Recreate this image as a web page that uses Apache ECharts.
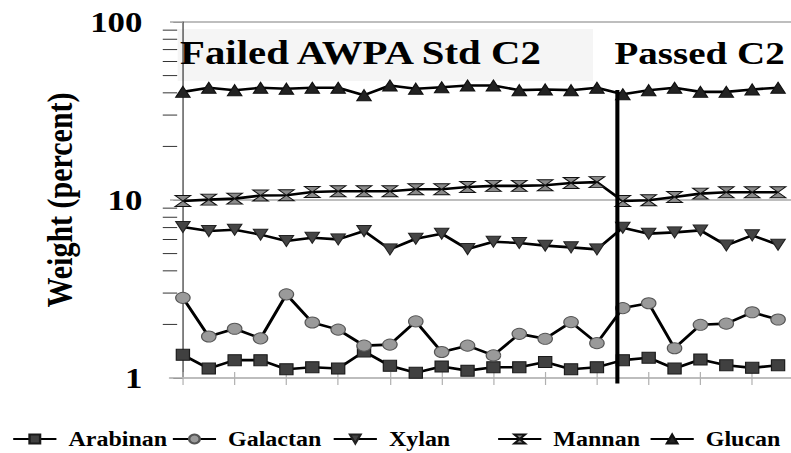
<!DOCTYPE html>
<html><head><meta charset="utf-8">
<script src="https://cdn.jsdelivr.net/npm/echarts@6/dist/echarts.min.js"></script>
<style>
html,body{margin:0;padding:0;background:#fff;overflow:hidden}
#wrap{width:791px;height:453px;overflow:hidden;background:#fff}
#chart{width:659px;height:453px;transform:scaleX(1.2003);transform-origin:0 0}
</style></head>
<body><div id="wrap"><div id="chart"></div></div>
<script>
// ---- data ----
const categories = ['S1','S2','S3','S4','S5','S6','S7','S8','S9','S10','S11','S12',
                    'S13','S14','S15','S16','S17','S18','S19','S20','S21','S22','S23','S24'];
const seriesNames = ['Arabinan','Galactan','Xylan','Mannan','Glucan'];
const arabinan = [1.35,1.13,1.26,1.26,1.12,1.15,1.13,1.41,1.17,1.07,1.16,1.10,
                  1.15,1.15,1.23,1.12,1.15,1.26,1.30,1.13,1.27,1.18,1.14,1.18];
const galactan = [2.82,1.71,1.89,1.67,2.95,2.05,1.87,1.52,1.54,2.08,1.40,1.52,
                  1.34,1.77,1.66,2.06,1.57,2.47,2.63,1.47,1.99,2.02,2.34,2.13];
const xylan    = [7.05,6.69,6.81,6.39,5.88,6.14,6.01,6.69,5.28,6.06,6.47,5.30,
                  5.83,5.73,5.54,5.42,5.28,6.99,6.47,6.58,6.75,5.56,6.33,5.61];
const mannan   = [9.87,10.05,10.18,10.59,10.63,11.09,11.2,11.2,11.2,11.49,11.49,11.84,
                  12.0,12.0,12.1,12.47,12.6,9.87,9.96,10.4,10.86,11.05,11.05,11.05];
const glucan   = [40.5,42.7,41.4,42.7,42.2,42.7,42.7,38.8,44.0,42.2,43.0,44.0,
                  44.0,41.4,41.8,41.4,42.7,39.3,41.4,42.7,40.5,40.5,41.8,42.7];
const yTickLabels = [1, 10, 100];
const yMinorTicks = [2,3,4,5,6,7,8,9,20,30,40,50,60,70,80,90];
const dividerLine = [[16.79, 41.5],[16.79, 0.93]];
const annotations = ['Failed AWPA Std C2', 'Passed C2'];
const yAxisTitle = 'Weight (percent)';

// ---- chart ----
const serif = 'Liberation Serif';
const chart = echarts.init(document.getElementById('chart'), null, {renderer:'svg'});
const valuesList = [arabinan, galactan, xylan, mannan, glucan];
const symbols = ['rect','circle','triangle','path://M0,0 L10,0 L0,10 L10,10 Z','triangle'];
const symbolRot = [0,0,180,0,0];
const symbolSizes = [[11,11],[12,11],[12,11],[13,11],[12,11]];
const fills = ['#404040','#9a9a9a','#454545','#8a8a8a','#222222'];
const borders = ['#1a1a1a','#555555','#222222','#111111','#111111'];
const legendLefts = [10, 143, 277, 414, 541];

const lineSeries = seriesNames.map((n,i)=>({
  name:n, type:'line', data: valuesList[i],
  xAxisIndex:0, yAxisIndex:0,
  symbol: symbols[i], symbolRotate: symbolRot[i], symbolSize: symbolSizes[i],
  showAllSymbol: true,
  lineStyle:{color:'#000', width:2.6},
  itemStyle:{color: fills[i], borderColor: borders[i], borderWidth:1},
  z: 3, silent:true
}));

const option = {
  animation:false,
  backgroundColor:'#fff',
  grid:{left:141.6, right:0, top:22, bottom:75, containLabel:false},
  xAxis:[
    {type:'category', data:categories, boundaryGap:true,
     axisLine:{show:true, lineStyle:{color:'#bdbdbd', width:2}},
     axisTick:{show:true, alignWithLabel:true, length:7, lineStyle:{color:'#b0b0b0', width:1}},
     axisLabel:{show:false}, splitLine:{show:false}},
    {type:'value', min:-0.5, max:23.5, show:false},
    {type:'category', data:categories, boundaryGap:true, position:'bottom',
     axisLine:{show:false},
     axisTick:{show:true, inside:true, alignWithLabel:true, length:6, lineStyle:{color:'#b0b0b0', width:1}},
     axisLabel:{show:false}, splitLine:{show:false}}
  ],
  yAxis:[{
    type:'log', logBase:10, min:1, max:100,
    axisLine:{show:true, lineStyle:{color:'#333', width:1}},
    axisTick:{show:true, length:8, lineStyle:{color:'#999', width:1}},
    splitLine:{show:true, lineStyle:{color:'#a8a8a8', width:1.5}},
    axisLabel:{margin:23, color:'#000', fontFamily:serif, fontWeight:'bold', fontSize:29,
      formatter:(v)=> yTickLabels.indexOf(Math.round(v))>=0 ? String(Math.round(v)) : ''},
    name: yAxisTitle, nameLocation:'middle', nameRotate:90, nameGap:71,
    nameTextStyle:{color:'#000', fontFamily:serif, fontWeight:'bold', fontSize:30}
  }],
  legend: seriesNames.map((n,i)=>({
    data:[n], left: legendLefts[i], top: 429, padding:0,
    itemWidth:36, itemHeight:11, selectedMode:false,
    textStyle:{color:'#000', fontFamily:serif, fontWeight:'bold', fontSize:20, padding:[0,0,0,5]}
  })),
  graphic:[
    {type:'rect', shape:{x:148, y:29, width:346, height:52}, style:{fill:'#f5f5f5'}, z:0, silent:true},
    {type:'text', x:150, y:53, style:{text:annotations[0], fill:'#000', fontFamily:serif, fontWeight:'bold', fontSize:34, verticalAlign:'middle'}, z:10, silent:true},
    {type:'text', x:512, y:53, style:{text:annotations[1], fill:'#000', fontFamily:serif, fontWeight:'bold', fontSize:32.5, verticalAlign:'middle'}, z:10, silent:true}
  ],
  series: [
    ...lineSeries,
    {type:'custom', xAxisIndex:1, yAxisIndex:0, data: yMinorTicks.map(v=>[-0.5, v]), clip:false, silent:true, z:4,
     renderItem:(params, api)=>{
       const p = api.coord([api.value(0), api.value(1)]);
       return {type:'line', shape:{x1:p[0]-6, y1:p[1], x2:p[0]+6, y2:p[1]}, style:{stroke:'#333', lineWidth:1}};
     }},
    {type:'line', xAxisIndex:1, yAxisIndex:0, data: dividerLine, symbol:'none', clip:false, silent:true,
     lineStyle:{color:'#000', width:3.4}, z:5}
  ]
};
chart.setOption(option);
</script></body></html>
